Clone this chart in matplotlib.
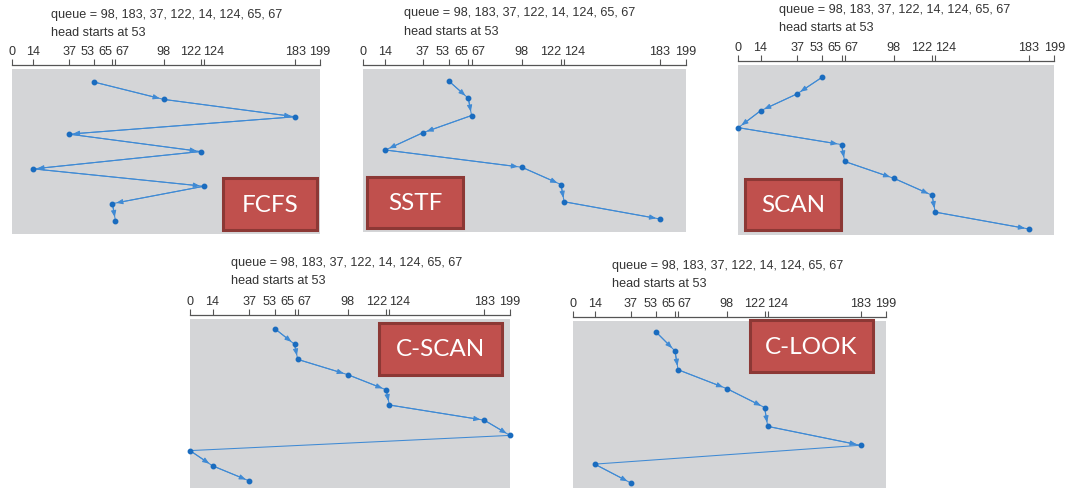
import matplotlib
matplotlib.use("Agg")
import matplotlib.pyplot as plt
from matplotlib.patches import Rectangle
from matplotlib.transforms import blended_transform_factory

# ---------------- data ----------------
queue = [98, 183, 37, 122, 14, 124, 65, 67]
head_start = 53
cylinder_ticks = [0, 14, 37, 53, 65, 67, 98, 122, 124, 183, 199]
tick_labels = ["0", "14", "37", "53", "65", "67", "98", "122", "124", "183", "199"]

fcfs_seq = [53, 98, 183, 37, 122, 14, 124, 65, 67]
sstf_seq = [53, 65, 67, 37, 14, 98, 122, 124, 183]
scan_seq = [53, 37, 14, 0, 65, 67, 98, 122, 124, 183]
cscan_seq = [53, 65, 67, 98, 122, 124, 183, 199, 0, 14, 37]
clook_seq = [53, 65, 67, 98, 122, 124, 183, 14, 37]

# segments drawn without an arrow head (the return jump)
fcfs_noarrow = []
sstf_noarrow = []
scan_noarrow = []
cscan_noarrow = [7]
clook_noarrow = [6]

names = ["FCFS", "SSTF", "SCAN", "C-SCAN", "C-LOOK"]

# ---------------- style ----------------
W, H = 1068, 488
DPI = 100
GRAY = "#d4d5d7"
LINE = "#3f8ad4"
DOT = "#1a6cbf"
TXT = "#333333"
AXC = "#555555"
BOXF = "#c0504d"
BOXE = "#8c3835"
TICKFONT = ["Liberation Sans", "DejaVu Sans"]
BOXFONT = ["Lato", "DejaVu Sans"]
FS = 9.1

fig = plt.figure(figsize=(W / DPI, H / DPI), dpi=DPI)
fig.patch.set_facecolor("white")

# tick label alignment tweaks (ha, x offset in points)
label_align = {"53": ("right", 0.8), "65": ("right", 0.2), "67": ("left", -0.2),
               "122": ("right", 0.5), "124": ("left", -0.3)}


def fx(px):
    return px / W


def fy(py):
    return 1 - py / H


def panel(seq, noarrow, name, x0, x1, yline, ybot, yfirst, ylast,
          hx, hy1, hy2, box):
    ax = fig.add_axes([fx(x0), fy(ybot), (x1 - x0) / W, (ybot - yline) / H])
    ax.set_facecolor("none")
    n = len(seq) - 1
    step = (ylast - yfirst) / n
    top = -(yfirst - yline) / step
    bottom = n + (ybot - ylast) / step
    ax.set_xlim(0, 199)
    ax.set_ylim(bottom, top)

    gap = 4.0 / (ybot - yline)
    ax.add_patch(Rectangle((0, 0), 1, 1 - gap, transform=ax.transAxes,
                           facecolor=GRAY, edgecolor="none", zorder=0))

    for s in ["left", "right", "bottom"]:
        ax.spines[s].set_visible(False)
    ax.spines["top"].set_color(AXC)
    ax.spines["top"].set_linewidth(0.9)
    ax.set_yticks([])
    ax.xaxis.set_ticks_position("top")
    ax.set_xticks(cylinder_ticks)
    ax.set_xticklabels([])
    ax.tick_params(axis="x", which="major", direction="out", length=4.3,
                   width=0.8, color=AXC)
    ax.set_xticks([0, 199], minor=True)
    ax.tick_params(axis="x", which="minor", direction="inout", length=8,
                   width=0.8, color=AXC)

    tr = blended_transform_factory(ax.transData, ax.transAxes)
    for v, lab in zip(cylinder_ticks, tick_labels):
        ha, dx = label_align.get(lab, ("center", 0.0))
        ax.annotate(lab, xy=(v, 1), xycoords=tr, xytext=(dx, 9.5),
                    textcoords="offset points", ha=ha, va="center",
                    fontsize=FS, color=TXT, family=TICKFONT,
                    annotation_clip=False)

    ys = list(range(len(seq)))
    ax.plot(seq, ys, color=LINE, lw=0.75, zorder=2, clip_on=False)
    for i in range(n):
        if i in noarrow:
            continue
        ax.annotate("", xy=(seq[i + 1], ys[i + 1]), xytext=(seq[i], ys[i]),
                    arrowprops=dict(arrowstyle="-|>,head_length=0.38,head_width=0.15",
                                    color=LINE, lw=0.75, shrinkA=0, shrinkB=2.8),
                    zorder=3, annotation_clip=False)
    ax.plot(seq, ys, "o", color=DOT, ms=3.2, zorder=4, clip_on=False)

    fig.text(fx(hx), fy(hy1),
             "queue = " + ", ".join(str(q) for q in queue),
             fontsize=FS, color=TXT, family=TICKFONT, va="center", ha="left")
    fig.text(fx(hx), fy(hy2), "head starts at %d" % head_start,
             fontsize=FS, color=TXT, family=TICKFONT, va="center", ha="left")

    bx0, by0, bx1, by1 = box
    fig.add_artist(Rectangle((fx(bx0), fy(by1)), (bx1 - bx0) / W, (by1 - by0) / H,
                             transform=fig.transFigure, facecolor=BOXF,
                             edgecolor=BOXE, lw=2.2, zorder=10))
    fig.text(fx((bx0 + bx1) / 2), fy((by0 + by1) / 2 + 1), name,
             fontsize=17.5, color="white", family=BOXFONT,
             ha="center", va="center", zorder=11)


panel(fcfs_seq, fcfs_noarrow, names[0], 11.7, 320, 65, 234, 82, 221,
      50.7, 15, 33, (223, 178, 317, 230))
panel(sstf_seq, sstf_noarrow, names[1], 362.7, 686, 65, 232, 81, 219,
      404, 13, 32, (367, 177, 463, 228))
panel(scan_seq, scan_noarrow, names[2], 738.3, 1054.3, 61, 235, 77, 229,
      779, 10, 28, (745, 179, 841, 230))
panel(cscan_seq, cscan_noarrow, names[3], 190, 510, 315, 488, 329, 481,
      231, 263, 281, (379, 323, 502, 375))
panel(clook_seq, clook_noarrow, names[4], 572.7, 885.7, 317, 488, 332, 483,
      612, 266, 284, (750, 320, 873, 372))

fig.savefig("out.png", dpi=DPI)
